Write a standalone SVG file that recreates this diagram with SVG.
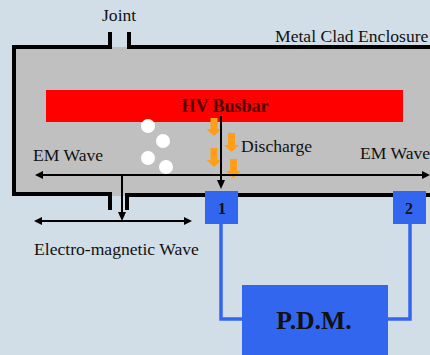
<svg xmlns="http://www.w3.org/2000/svg" width="430" height="355" viewBox="0 0 430 355">
<style>
text{font-family:"Liberation Serif",serif;fill:#111}
.l{font-size:17.6px}
.b{font-weight:bold}
.w{fill:none;stroke:#000;stroke-width:4}
.a{fill:none;stroke:#000;stroke-width:2}
.h{fill:#000}
.c{fill:none;stroke:#3366ee;stroke-width:3.5}
.n{fill:#3366ee}
.o{fill:#ff9e1b}
.d{fill:#fff}
</style>
<rect width="430" height="355" fill="#d1dde7"/>
<g id="enclosure">
<path d="M14 47H430V196H14Z" fill="#c0c0c0"/>
<path class="w" d="M110 32V47H14V194H110V210"/>
<path class="w" d="M129 32V47H430"/>
<path class="w" d="M127 210V195H430"/>
</g>
<g id="busbar">
<rect x="46" y="90" width="357" height="32" fill="#ff0000"/>
<text x="225" y="112" class="b" font-size="18" text-anchor="middle" style="fill:#4a0000">HV Busbar</text>
</g>
<g id="particles">
<circle class="d" cx="148" cy="126" r="7"/>
<circle class="d" cx="163" cy="141" r="7"/>
<circle class="d" cx="148" cy="158" r="7"/>
<circle class="d" cx="166" cy="167" r="7"/>
</g>
<g id="discharge-arrows">
<path class="o" d="M210.500 118h7v11h4l-7.500 7-7.500-7h4z"/>
<path class="o" d="M210.500 148h7v12h4l-7.500 7-7.500-7h4z"/>
<path class="o" d="M228 133h7v12h4l-7.500 7-7.500-7h4z"/>
<path class="o" d="M230 159h7v12h4l-7.500 7-7.500-7h4z"/>
</g>
<g id="connectors">
<path class="a" d="M42 175H424"/>
<path class="h" d="M35 175l8-4v8z"/>
<path class="h" d="M430 175l-8-4v8z"/>
<path class="a" d="M221 116V182"/>
<path class="h" d="M221 189l-4-9h8z"/>
<path class="a" d="M122 175V215"/>
<path class="h" d="M122 221l-4-9h8z"/>
<path class="a" d="M41 221H186"/>
<path class="h" d="M34 221l8-4v8z"/>
<path class="h" d="M192 221l-8-4v8z"/>
<path class="c" d="M221 224V319H243"/>
<path class="c" d="M410 224V319H388"/>
</g>
<g id="sensor-1">
<rect class="n" x="205" y="191" width="33" height="33"/>
<text x="222" y="214" class="b" font-size="16" text-anchor="middle">1</text>
</g>
<g id="sensor-2">
<rect class="n" x="393" y="191" width="33" height="33"/>
<text x="409" y="214" class="b" font-size="16" text-anchor="middle">2</text>
</g>
<g id="pdm">
<rect class="n" x="242" y="285" width="146" height="70"/>
<text x="314" y="329" class="b" font-size="25.700" text-anchor="middle">P.D.M.</text>
</g>
<g id="labels">
<text x="102" y="21" class="l">Joint</text>
<text x="275" y="42" class="l">Metal Clad Enclosure</text>
<text x="33" y="161" class="l">EM Wave</text>
<text x="360" y="159" class="l">EM Wave</text>
<text x="241" y="152" class="l">Discharge</text>
<text x="34" y="255" class="l">Electro-magnetic Wave</text>
</g>
</svg>
